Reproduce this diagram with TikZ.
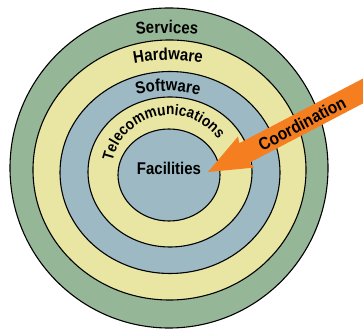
\documentclass[tikz,border=0pt]{standalone}
\usepackage{fontspec}
\setmainfont{Liberation Sans}
\newfontfamily\condfont[FakeStretch=0.88]{Liberation Sans}
\usetikzlibrary{decorations.text}
\definecolor{ringgreen}{HTML}{96B698}
\definecolor{ringyellow}{HTML}{E9E6A4}
\definecolor{ringblue}{HTML}{9DB9C3}
\definecolor{arroworange}{HTML}{F47E20}
\newcommand{\lblfont}{\condfont\bfseries\fontsize{17}{20}\selectfont}
\newcommand{\telfont}{\condfont\bfseries\fontsize{15.5}{18}\selectfont}
\newcommand{\coordfont}{\condfont\bfseries\fontsize{17.5}{20}\selectfont}
\begin{document}
\begin{tikzpicture}[x=1pt,y=1pt,
  ring/.style={draw=black, line width=1.1pt},
  lbl/.style={font=\lblfont, inner sep=0pt},
  arctext/.style={decorate, decoration={text along path, text align=center, text={|\lblfont|#1}}}]
\useasboundingbox (0,0) rectangle (363,331);
\begin{scope}
\clip (0,0) rectangle (363,331);
\filldraw[ring, fill=ringgreen]  (169,163)   ellipse [x radius=159,   y radius=160];
\filldraw[ring, fill=ringyellow] (169.5,161) ellipse [x radius=136.5, y radius=130];
\filldraw[ring, fill=ringblue]   (170,158.5) ellipse [x radius=110,   y radius=101];
\filldraw[ring, fill=ringyellow] (170,159)   ellipse [x radius=82,    y radius=75];
\filldraw[ring, fill=ringblue]   (169,156)   ellipse [x radius=51,    y radius=46];
% ring labels
\path[arctext=Services, shift={(167,48)}]  (110:250) arc[start angle=110, end angle=70, radius=250];
\path[arctext=Hardware, shift={(168,91)}]  (120:180) arc[start angle=120, end angle=60, radius=180];
\path[arctext=Software, shift={(168,110)}] (130:130) arc[start angle=130, end angle=50, radius=130];
\path[decorate, decoration={text along path, text align=center, text={|\telfont|Telecommunications}}, shift={(170,157)}] (181.5:59) arc[start angle=181.5, end angle=21.5, radius=59];
\node[lbl, anchor=base] (fac) at (169,156) {Facilities};
% arrow
\begin{scope}[shift={(208,159)}, rotate=27.6]
\fill[arroworange] (0,0) -- (43,17.5) -- (41,11) -- (230,11) -- (230,-11) -- (41,-11) -- (43,-17.5) -- cycle;
\end{scope}
\node[font=\coordfont, inner sep=0pt, rotate=27.6] (coord) at (302,207.5) {Coordination};
\end{scope}
\end{tikzpicture}
\end{document}
